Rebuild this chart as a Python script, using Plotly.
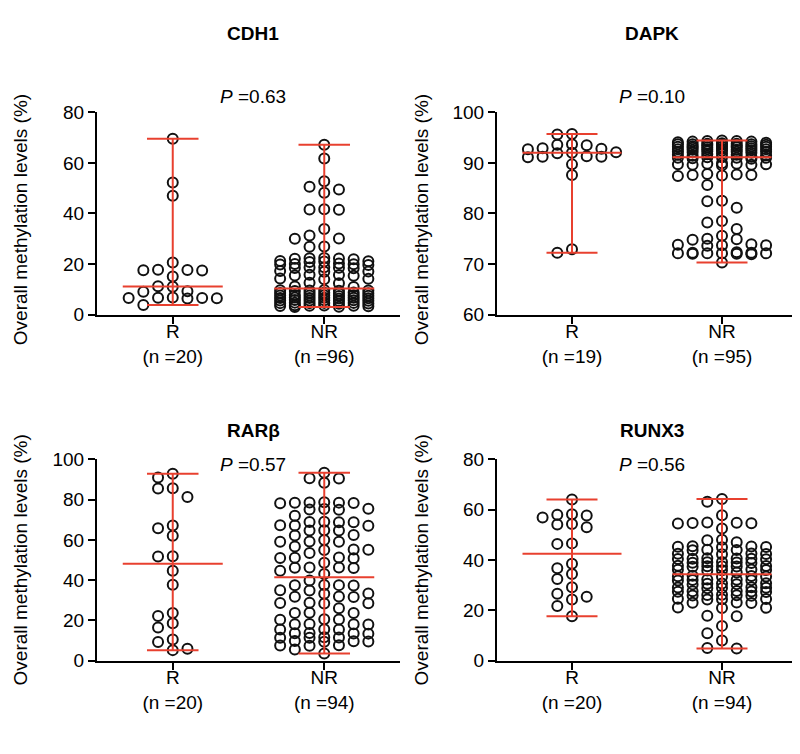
import numpy as np
import plotly.graph_objects as go

# ---------------- data ----------------
categories = ["R", "NR"]
genes = ["CDH1", "DAPK", "RARβ", "RUNX3"]
p_values = ["0.63", "0.10", "0.57", "0.56"]
y_ranges = [(0, 80), (60, 100), (0, 100), (0, 80)]
y_dticks = [20, 10, 20, 20]

cdh1_R = [69.5, 52.2, 47.0, 20.6, 17.6, 17.4, 17.7, 17.5, 15.0, 11.2, 11.0, 9.2, 9.0,
          6.6, 6.4, 6.5, 6.7, 6.3, 6.5, 3.8]
cdh1_NR = [67.2, 61.7, 52.7, 50.5, 49.5, 48.2, 41.5, 41.6, 41.4, 33.8, 31.3, 30.0, 30.1, 26.8, 26.9,
           22.4, 22.1, 22.3, 21.9, 22.2, 21.0, 21.2, 20.8, 21.1, 19.8, 20.0, 19.6, 20.2, 19.9,
           18.6, 18.4, 18.7, 18.3, 18.5, 17.0, 17.2, 16.9, 15.6, 15.4, 15.7, 15.3, 14.1, 13.9, 14.2,
           12.6, 12.4, 11.1, 10.9,
           9.6, 9.4, 9.5, 9.7, 9.3, 9.5, 8.6, 8.4, 8.5, 8.7, 8.3, 8.5, 7.6, 7.4, 7.5, 7.7, 7.3, 7.5, 7.6,
           6.6, 6.4, 6.5, 6.7, 6.3, 6.5, 6.6, 5.6, 5.4, 5.5, 5.7, 5.3, 5.5, 5.6, 4.6, 4.4, 4.5, 4.7,
           4.3, 4.5, 4.6, 3.6, 3.4, 3.5, 3.7, 3.3, 3.5, 3.1, 3.0]
dapk_R = [95.7, 95.6, 93.7, 93.5, 93.6, 92.8, 92.9, 92.7, 92.0, 91.9, 92.1, 91.2, 91.3, 91.1, 91.2,
          89.7, 87.6, 72.9, 72.2]
dapk_NR = [94.3, 94.1, 94.2, 94.4, 94.0, 94.2, 94.3,
           93.7, 93.8, 93.6, 93.7, 93.9, 93.5, 93.7, 93.8, 93.6,
           93.2, 93.3, 93.1, 93.2, 93.0, 93.3, 93.2, 93.1, 93.4,
           92.7, 92.6, 92.8, 92.7, 92.5, 92.9, 92.6, 92.7,
           92.2, 92.1, 92.3, 92.2, 92.0, 92.4, 92.2,
           91.6, 91.7, 91.5, 91.6, 91.8, 91.4,
           91.0, 91.1, 90.9, 91.0, 91.2, 90.8, 91.0, 91.1,
           89.8, 89.6, 89.7, 89.9, 89.5, 89.7, 89.8, 89.6,
           87.7, 87.5, 87.6, 87.8, 87.4, 87.6,
           85.6, 82.4, 82.5, 81.1, 78.5, 78.2, 76.9, 75.6, 74.9, 75.0, 74.8,
           73.7, 73.8, 73.6, 73.7, 73.9, 72.1, 72.2, 72.0, 72.1, 72.3, 71.9, 72.1, 72.2, 72.0, 72.1, 70.3]
rarb_R = [92.9, 91.0, 85.7, 85.5, 81.3, 67.1, 65.8, 62.0, 51.7, 51.9, 44.6, 37.7, 23.7, 22.1,
          18.5, 16.4, 10.5, 9.2, 5.9, 5.2]
rarb_NR = [93.4, 90.5, 90.6, 88.4, 78.5, 78.3, 78.6, 78.2, 78.4, 78.7, 75.3, 75.1, 75.4, 75.0, 72.0,
           68.9, 68.7, 68.8, 69.0, 67.2, 67.0, 67.1, 64.8, 64.6, 64.7, 62.4, 62.2, 59.9, 59.2, 59.0,
           59.1, 56.7, 55.2, 55.0, 55.1, 53.5, 51.1, 50.9, 51.0, 51.2, 48.6, 46.3, 46.1, 46.2, 46.0,
           44.6, 43.0,
           39.8, 37.5, 37.3, 37.4, 37.6, 35.0, 34.8, 33.4, 33.2, 31.8, 31.6, 31.7, 28.6, 28.4, 28.5,
           28.7, 26.0, 23.8, 23.6, 23.7, 20.5, 20.3, 20.4, 18.1, 17.9, 18.0, 18.2, 15.6, 15.4, 15.5,
           13.6, 13.4, 13.5, 13.7, 11.6, 11.4, 11.5, 11.3, 9.6, 9.4, 9.5, 9.7, 7.6, 7.4, 7.5, 5.5, 3.5]
runx3_R = [64.0, 58.2, 58.0, 57.7, 56.9, 54.3, 54.1, 53.0, 46.6, 46.4, 38.5, 36.7, 34.4, 32.4,
           29.2, 26.6, 25.4, 24.3, 21.7, 17.6]
runx3_NR = [64.2, 63.1, 57.8, 54.7, 54.6, 54.8, 54.5, 54.9, 52.5, 48.0, 47.8, 47.0, 45.3, 45.2,
            45.4, 45.1, 45.5, 44.0, 44.1, 43.9, 42.5, 42.4, 42.6, 42.3, 40.5, 40.4, 40.6, 40.3,
            40.7, 40.5, 39.0, 39.1, 38.9, 39.2, 38.8, 37.5, 37.4, 37.6, 37.3, 37.7, 37.5, 36.0,
            36.1, 35.9, 36.2, 35.8, 35.0,
            33.5, 33.4, 33.6, 33.3, 33.7, 32.0, 32.1, 31.9, 32.2, 31.8, 30.5, 30.4, 30.6, 30.3,
            30.7, 29.0, 29.1, 28.9, 29.2, 28.8, 27.5, 27.4, 27.6, 27.3, 27.7, 26.0, 26.1, 25.9,
            26.2, 25.8, 24.5, 24.4, 24.6, 24.3, 23.0, 23.1, 22.9, 21.0, 21.1, 20.9, 17.6, 17.8,
            13.8, 10.9, 8.0, 4.8, 5.0]

groups = [(cdh1_R, cdh1_NR), (dapk_R, dapk_NR), (rarb_R, rarb_NR), (runx3_R, runx3_NR)]

# ---------------- layout geometry (pixels, in screenshot coordinates) ----------------
W, H = 800, 754
OFF = 8  # default page margin of the html body
boxes = [(97, 400, 105, 313), (497, 797, 105, 313), (97, 400, 462, 669), (497, 797, 462, 669)]
X_RANGE = (0.5, 2.5)
RED = "#E8402F"
FONT = "Liberation Sans, Arial, sans-serif"
FS = 19


def px_x(x):
    return (x - OFF) / W


def px_y(y):
    return 1 - (y - OFF) / H


def swarm(values, px_per_y, px_per_x, s_px=14.7, h_px=10.0, kmax=3):
    vals = np.asarray(values, dtype=float)
    order = np.argsort(-vals, kind="stable")
    cols = {}
    offs = np.zeros(len(vals))
    ks = [0] + [v for i in range(1, kmax + 1) for v in (-i, i)]
    for idx in order:
        y = vals[idx] * px_per_y
        chosen = None
        for k in ks:
            if all(abs(y - yy) >= h_px for yy in cols.get(k, [])):
                chosen = k
                break
        if chosen is None:
            best = -1.0
            for k in ks:
                dmin = min((abs(y - yy) for yy in cols.get(k, [])), default=1e9)
                if dmin > best + 1e-9:
                    best = dmin
                    chosen = k
        cols.setdefault(chosen, []).append(y)
        offs[idx] = chosen * s_px / px_per_x
    return offs


fig = go.Figure()
annotations = []
layout_axes = {}

for i, (gene, pv, yr, dt, (gR, gNR), box) in enumerate(
        zip(genes, p_values, y_ranges, y_dticks, groups, boxes)):
    x0, x1, yt, yb = box
    n = i + 1
    xa = "x" if n == 1 else f"x{n}"
    ya = "y" if n == 1 else f"y{n}"
    px_per_x = (x1 - x0) / (X_RANGE[1] - X_RANGE[0])
    px_per_y = (yb - yt) / (yr[1] - yr[0])

    ex, ey = [], []
    for c, g in enumerate([gR, gNR]):
        cx = c + 1
        offs = swarm(g, px_per_y, px_per_x)
        fig.add_trace(go.Scatter(
            x=cx + offs, y=g, mode="markers", xaxis=xa, yaxis=ya, showlegend=False,
            cliponaxis=False,
            marker=dict(symbol="circle-open", size=10, color="#111111",
                        line=dict(width=2, color="#111111"))))
        med, lo, hi = float(np.median(g)), float(np.min(g)), float(np.max(g))
        ex += [cx - 0.33, cx + 0.33, None, cx, cx, None,
               cx - 0.17, cx + 0.17, None, cx - 0.17, cx + 0.17, None]
        ey += [med, med, None, lo, hi, None, lo, lo, None, hi, hi, None]
    fig.add_trace(go.Scatter(x=ex, y=ey, mode="lines", xaxis=xa, yaxis=ya, showlegend=False,
                             cliponaxis=False, line=dict(color=RED, width=2)))

    ticktext = [f"{cat}<br>(n ={len(g)})" for cat, g in zip(categories, (gR, gNR))]
    common = dict(showline=True, linewidth=2, linecolor="black", ticks="outside", ticklen=7,
                  tickwidth=2, tickcolor="black", showgrid=False, zeroline=False,
                  tickfont=dict(family=FONT, size=FS, color="black"))
    layout_axes["xaxis" if n == 1 else f"xaxis{n}"] = dict(
        domain=[px_x(x0), min(1.0, px_x(x1))], range=list(X_RANGE), anchor=ya,
        tickvals=[1, 2], ticktext=ticktext, ticklabelstandoff=-8, **common)
    layout_axes["yaxis" if n == 1 else f"yaxis{n}"] = dict(
        domain=[px_y(yb), px_y(yt)], range=list(yr), anchor=xa,
        tick0=yr[0], dtick=dt, **common)

    cx_px = 253 if i % 2 == 0 else 652
    top = 24 if i < 2 else 432
    ptop = 89 if i < 2 else 467
    annotations.append(dict(x=px_x(cx_px), y=px_y(top), xref="paper", yref="paper",
                            xanchor="center", yanchor="middle",
                            text=f"<b>{gene}</b>", showarrow=False,
                            font=dict(family=FONT, size=FS, color="black")))
    annotations.append(dict(x=px_x(cx_px), y=px_y(ptop), xref="paper", yref="paper",
                            xanchor="center", yanchor="middle",
                            text=f"<i>P</i> ={pv}", showarrow=False,
                            font=dict(family=FONT, size=FS, color="black")))
    tx = 20 if i % 2 == 0 else 421
    ty = 216 if i < 2 else 566
    annotations.append(dict(x=px_x(tx), y=px_y(ty), xref="paper", yref="paper",
                            xanchor="center", yanchor="middle",
                            text="Overall methylation levels (%)", textangle=-90,
                            showarrow=False,
                            font=dict(family=FONT, size=FS, color="black")))

fig.update_layout(width=W, height=H, margin=dict(l=0, r=0, t=0, b=0),
                  plot_bgcolor="white", paper_bgcolor="white",
                  annotations=annotations, **layout_axes)

fig.write_html("out.html")
